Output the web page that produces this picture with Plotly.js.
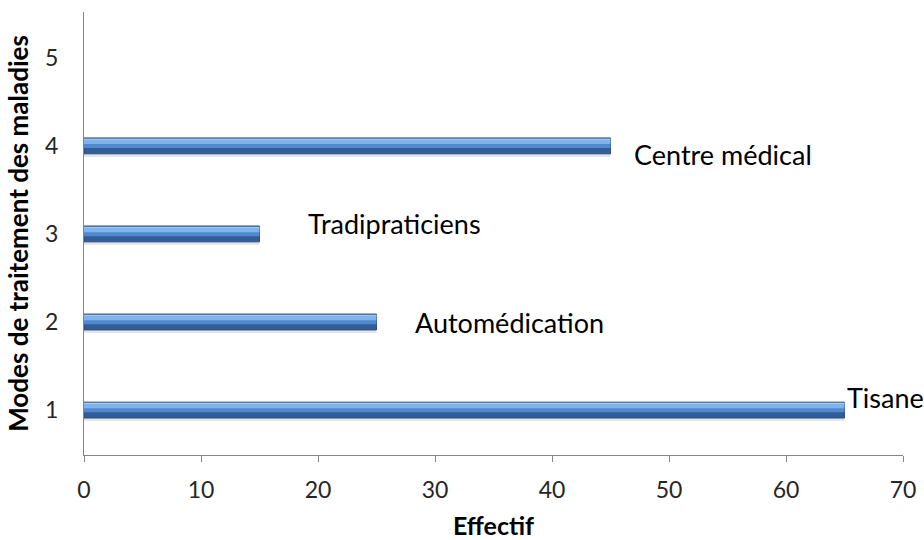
<!DOCTYPE html>
<html>
<head>
<meta charset="utf-8">
<script src="https://cdn.plot.ly/plotly-3.0.1.min.js"></script>
<style>
  html, body { margin: 0; padding: 0; background: #ffffff; }
  #chart { width: 924px; height: 540px; }
</style>
</head>
<body>
<div id="chart"></div>
<script>
// ---- Data ----
const modes = [1, 2, 3, 4];
const effectif = [65, 25, 15, 45];
const modeLabels = ['Tisane', 'Automédication', 'Tradipraticiens', 'Centre médical'];
const yTickVals = [1, 2, 3, 4, 5];
const xTickVals = [0, 10, 20, 30, 40, 50, 60, 70];

const FONT = 'Lato, "Open Sans", sans-serif';

// Bevelled bar look: dark base, mid band, light highlight (same data)
function barLayer(color, offset, width, lineColor) {
  return {
    type: 'bar',
    orientation: 'h',
    x: effectif,
    y: modes,
    offset: offset,
    width: width,
    marker: { color: color, line: { color: lineColor || color, width: lineColor ? 1 : 0 } },
    hoverinfo: 'skip',
    showlegend: false
  };
}

const traces = [
  barLayer('#e4e6ea', -0.125, 0.05),            // soft shadow below
  barLayer('#325d95', -0.09, 0.18, '#2a4f80'),  // base (dark)
  barLayer('#4f8acf', -0.025, 0.05),            // mid
  barLayer('#7fb3ec', 0.02, 0.06),              // highlight
  barLayer('#a9cdf3', 0.07, 0.012)              // top sheen
];

// Labels next to bars (text positions in data units)
const labelPos = [
  { x: 65.0, y: 1.14 },
  { x: 28.1, y: 2.0 },
  { x: 19.0, y: 3.12 },
  { x: 46.8, y: 3.9 }
];
const annotations = modeLabels.map((t, i) => ({
  x: labelPos[i].x, y: labelPos[i].y, xref: 'x', yref: 'y',
  text: t, showarrow: false, xanchor: 'left', yanchor: 'middle',
  font: { family: FONT, size: 27, color: '#000000' }
}));

const layout = {
  width: 924, height: 540,
  margin: { l: 84, r: 21, t: 12, b: 85 },
  paper_bgcolor: '#ffffff', plot_bgcolor: '#ffffff',
  barmode: 'overlay',
  showlegend: false,
  font: { family: FONT, color: '#000000' },
  xaxis: {
    range: [0, 70],
    tickvals: xTickVals,
    showgrid: false, zeroline: false,
    showline: true, linecolor: '#868686', linewidth: 1,
    ticks: 'outside', ticklen: 6, tickcolor: '#868686',
    ticklabelstandoff: 8,
    tickfont: { family: FONT, size: 23, color: '#262626' },
    title: { text: '<b>Effectif</b>', font: { family: FONT, size: 25, color: '#000000' }, standoff: 17 }
  },
  yaxis: {
    range: [0.49, 5.52],
    tickvals: yTickVals,
    showgrid: false, zeroline: false,
    showline: true, linecolor: '#868686', linewidth: 1,
    ticks: '',
    ticklabelstandoff: 20,
    tickfont: { family: FONT, size: 23, color: '#262626' },
    title: { text: '<b>Modes de traitement des maladies</b>', font: { family: FONT, size: 26, color: '#000000' }, standoff: 8 }
  },
  annotations: annotations
};

Plotly.newPlot('chart', traces, layout, { staticPlot: true, displayModeBar: false });
</script>
</body>
</html>
